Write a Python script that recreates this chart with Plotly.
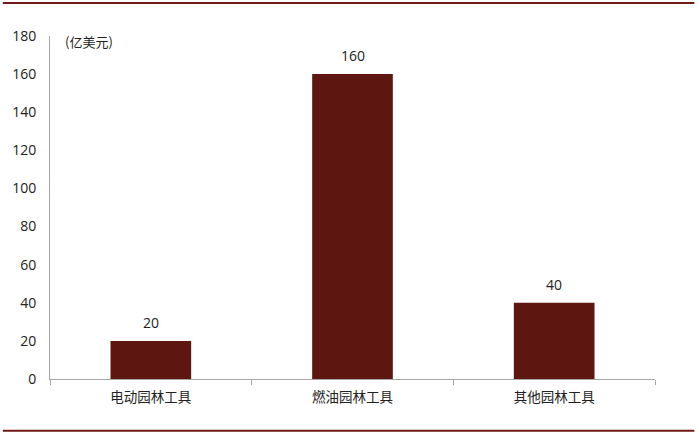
import plotly.graph_objects as go

# chart data
CATEGORIES = ["电动园林工具", "燃油园林工具", "其他园林工具"]
VALUES = [20, 160, 40]
Y_TICKS = [0, 20, 40, 60, 80, 100, 120, 140, 160, 180]

BAR_COLOUR = "#5E1710"
RULE_COLOUR = "#6E1A17"
AXIS_COLOUR = "#A6A6A6"
TEXT_COLOUR = "#222222"

fig = go.Figure()

fig.add_trace(
    go.Bar(
        x=CATEGORIES,
        y=VALUES,
        marker=dict(color=BAR_COLOUR, line=dict(width=0)),
        width=0.4,
        hoverinfo="skip",
    )
)

# value labels above the bars
for cat, val in zip(CATEGORIES, VALUES):
    fig.add_annotation(
        x=cat,
        y=val,
        text=str(val),
        showarrow=False,
        yanchor="bottom",
        yshift=7,
        font=dict(size=14, color=TEXT_COLOUR, family="Open Sans, Noto Sans"),
    )

# unit label in the top-left corner
fig.add_annotation(
    text="(亿美元)",
    xref="paper",
    yref="paper",
    x=0.022,
    y=0.983,
    xanchor="left",
    yanchor="middle",
    showarrow=False,
    font=dict(size=13, color=TEXT_COLOUR, family="Noto Sans CJK SC"),
)

# dark rules at top and bottom of the page
for y in [1.096, -0.151]:
    fig.add_shape(
        type="line",
        xref="paper",
        yref="paper",
        x0=-0.078,
        x1=1.065,
        y0=y,
        y1=y,
        line=dict(color=RULE_COLOUR, width=2),
    )

fig.update_layout(
    width=700,
    height=435,
    margin=dict(l=47, r=45, t=36, b=56),
    paper_bgcolor="white",
    plot_bgcolor="white",
    showlegend=False,
    font=dict(family="Open Sans, Noto Sans CJK SC", size=13, color=TEXT_COLOUR),
)

fig.update_xaxes(
    showline=True,
    linecolor=AXIS_COLOUR,
    linewidth=1,
    ticks="outside",
    tickson="boundaries",
    ticklen=5,
    tickcolor=AXIS_COLOUR,
    ticklabelstandoff=6,
    showgrid=False,
    tickfont=dict(size=13.5, family="Noto Sans CJK SC", color=TEXT_COLOUR),
)

fig.update_yaxes(
    range=[0, 180],
    tickvals=Y_TICKS,
    showline=True,
    linecolor=AXIS_COLOUR,
    linewidth=1,
    ticks="",
    ticklabelstandoff=10,
    showgrid=False,
    zeroline=False,
    tickfont=dict(size=14, color=TEXT_COLOUR),
)

# drop the default page margin so the figure sits at the window corner
fig.write_html(
    "out.html",
    config={"displayModeBar": False},
    post_script="document.body.style.margin='0';",
)
